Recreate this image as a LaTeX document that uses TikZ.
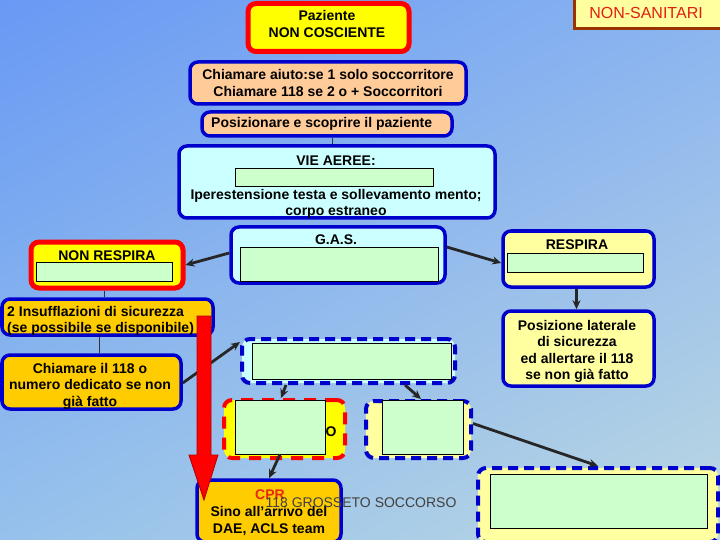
\documentclass[tikz,border=0pt]{standalone}
\usepackage{fontspec}
\setmainfont{Liberation Sans}
\usetikzlibrary{arrows.meta,shadings}
\definecolor{myblue}{RGB}{0,0,204}
\definecolor{myred}{RGB}{255,0,0}
\definecolor{ylw}{RGB}{255,255,0}
\definecolor{lylw}{RGB}{255,255,160}
\definecolor{peach}{RGB}{255,204,153}
\definecolor{lcyan}{RGB}{204,255,255}
\definecolor{lgreen}{RGB}{204,255,204}
\definecolor{orng}{RGB}{255,204,0}
\definecolor{brwn}{RGB}{153,51,0}
\definecolor{nsred}{RGB}{225,30,20}
\definecolor{cprred}{RGB}{230,40,20}
\definecolor{bgUL}{RGB}{104,153,244}
\definecolor{bgUR}{RGB}{138,180,240}
\definecolor{bgLL}{RGB}{150,193,236}
\definecolor{bgLR}{RGB}{188,216,226}
\newcommand{\fs}{\fontsize{14}{16.5}\selectfont\bfseries}
\begin{document}
\begin{tikzpicture}[x=1pt,y=-1pt,
  box/.style={rounded corners=8pt, line width=3.5pt, inner sep=0pt},
  bluebox/.style={box, draw=myblue},
  redbox/.style={box, draw=myred, line width=5pt},
  dbox/.style={box, draw=myblue, line width=4pt, dash pattern=on 10pt off 6pt},
  rdbox/.style={box, draw=myred, line width=4pt, dash pattern=on 12pt off 9pt},
  grn/.style={draw=black, line width=0.7pt, fill=lgreen, inner sep=0pt},
  txt/.style={font=\fs, align=center, inner sep=0pt},
  arr/.style={-{Stealth[length=9pt,width=8pt]}, line width=2.8pt, black!85},
  thinline/.style={draw=black!80, line width=0.8pt}]
\useasboundingbox (0,0) rectangle (720,540);
\shade[upper left=bgUL, upper right=bgUR, lower left=bgLL, lower right=bgLR] (0,0) rectangle (720,540);

% top boxes
\node[redbox, fill=ylw, minimum width=161, minimum height=48] (paz) at (328.5,27.5) {};
\node[txt, font=\fontsize{14}{17}\selectfont\bfseries] (pazT) at (327,23.5) {Paziente\\NON COSCIENTE};
\node[draw=brwn, line width=3pt, fill=lylw, minimum width=148, minimum height=31, inner sep=0pt] (nonsan) at (648,13.5) {};
\node[inner sep=0pt, text=nsred, font=\fontsize{16}{18}\selectfont] (nonsanT) at (646,13) {NON-SANITARI};

\node[bluebox, fill=peach, minimum width=276, minimum height=42] (aiuto) at (328,83) {};
\node[txt] (aiutoT) at (328,83) {Chiamare aiuto:se 1 solo soccorritore\\Chiamare 118 se 2 o + Soccorritori};

\node[bluebox, fill=peach, minimum width=250, minimum height=24] (posiz) at (327,124) {};
\node[txt, anchor=west] (posizT) at (211,124) {Posizionare e scoprire il paziente};

\node[bluebox, fill=lcyan, minimum width=316, minimum height=72] (vie) at (337,182) {};
\node[txt] (vieT) at (336,161) {VIE AEREE:};
\node[grn, minimum width=198, minimum height=18] (vieG) at (334,177.5) {};
\node[txt] (vieT2) at (336,204) {Iperestensione testa e sollevamento mento;\\corpo estraneo};

\coordinate (xp) at (332,0);
\draw[thinline] (posiz.south -| xp) -- (vie.north -| xp);

\node[bluebox, fill=lcyan, minimum width=214, minimum height=56] (gas) at (338,255) {};
\node[txt] (gasT) at (336,240) {G.A.S.};
\node[grn, minimum width=198, minimum height=34] (gasG) at (339,264) {};

\node[redbox, fill=ylw, minimum width=152, minimum height=46] (nonresp) at (107,265) {};
\node[txt] (nonrespT) at (107,256) {NON RESPIRA};
\node[grn, minimum width=136, minimum height=19] (nonrespG) at (104,272) {};

\node[bluebox, fill=lylw, minimum width=151, minimum height=56] (resp) at (578.5,259) {};
\node[txt] (respT) at (577,245) {RESPIRA};
\node[grn, minimum width=136, minimum height=19] (respG) at (575,262.5) {};

\node[bluebox, fill=lylw, minimum width=151, minimum height=75] (later) at (578.5,348.5) {};
\node[txt] (laterT) at (577,351.5) {Posizione laterale\\di sicurezza\\ed allertare il 118\\se non già fatto};

\node[bluebox, fill=orng, minimum width=211, minimum height=36] (insuf) at (107.5,317) {};
\node[txt, anchor=west, align=left] (insufT) at (7,321) {2 Insufflazioni di sicurezza\\(se possibile se disponibile)};

\node[bluebox, fill=orng, minimum width=179, minimum height=54] (chiam) at (91.5,382) {};
\node[txt] (chiamT) at (90,386) {Chiamare il 118 o\\numero dedicato se non\\già fatto};

% dashed boxes
\node[dbox, fill=lcyan, minimum width=213, minimum height=44] (d1) at (348.5,361) {};
\node[grn, minimum width=199, minimum height=36] (d1G) at (351.5,361) {};

\node[rdbox, fill=ylw, minimum width=121, minimum height=58] (rd) at (284.5,429) {};
\node[txt] (rdT) at (331,432) {O};
\node[grn, minimum width=90, minimum height=54] (rdG) at (280,427) {};

\node[dbox, fill=lylw, minimum width=105, minimum height=57] (bd2) at (418.5,429.5) {};
\node[grn, minimum width=81, minimum height=54] (bd2G) at (422.5,427) {};

\node[dbox, fill=lylw, minimum width=240, minimum height=74] (bd3) at (598,505) {};
\node[grn, minimum width=217, minimum height=54] (bd3G) at (598.5,501) {};

\node[bluebox, fill=orng, minimum width=144, minimum height=62] (cpr) at (269,511) {};
\node[txt, text=cprred] (cprT) at (270,495) {CPR};
\node[txt] (cprT2) at (269,521) {Sino all’arrivo del\\DAE, ACLS team};

% connectors
\draw[thinline] ([xshift=-3pt]nonresp.south) -- ([xshift=-3pt]nonresp.south |- insuf.north);
\coordinate (xa) at (99,0);
\draw[thinline] (insuf.south -| xa) -- (chiam.north -| xa);
\draw[arr] ([yshift=2pt]gas.west) -- (nonresp.east);
\draw[arr] ([yshift=8pt]gas.east) -- ([yshift=-4pt]resp.west);
\draw[arr] ([xshift=-2pt]resp.south) -- ([xshift=-2pt]later.north);
\draw[arr] ([yshift=-1pt]chiam.east) -- ([yshift=19pt]d1.west);
\coordinate (xb) at (286,0);
\coordinate (xc) at (281,0);
\draw[arr] (d1.south -| xb) -- (rd.north -| xc);
\coordinate (xd) at (405,0);
\coordinate (xe) at (421,0);
\draw[arr] (d1.south -| xd) -- (bd2.north -| xe);
\draw[arr] (rdG.south) -- (cpr.north);
\draw[arr] ([yshift=6pt]bd2.east) -- (bd3.north);

% big red arrow
\draw[fill=myred, draw=red!70!black, line width=0.8pt]
  (197,316) -- (211,316) -- (211,455) -- (218,455) -- (204,500) -- (189,455) -- (197,455) -- cycle;

\node[inner sep=0pt, text=black!75, font=\fontsize{14}{16}\selectfont] (foot) at (361,503) {118 GROSSETO SOCCORSO};
\end{tikzpicture}
\end{document}
